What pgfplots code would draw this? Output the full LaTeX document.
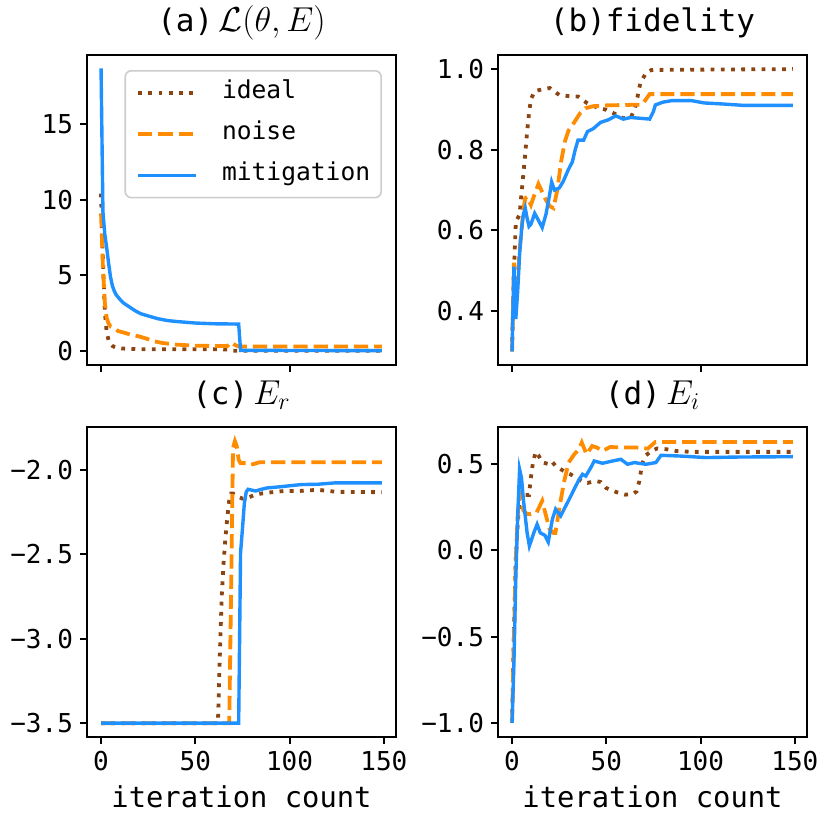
\documentclass[border=0pt]{standalone}
\usepackage{fontspec}
\setmainfont{DejaVu Sans Mono}
\usepackage{pgfplots}
\pgfplotsset{compat=1.18}
\definecolor{cideal}{RGB}{139,69,19}
\definecolor{cnoise}{RGB}{255,140,0}
\definecolor{cmit}{RGB}{30,144,255}
\definecolor{legframe}{RGB}{204,204,204}
\newcommand{\legfont}{\fontsize{12.3}{14}\selectfont}
\newcommand{\mathbig}[1]{{\fontsize{17}{19}\selectfont$#1$}}
\pgfplotsset{
  panel/.style={
    scale only axis, width=154.5pt, height=155pt, anchor=north west,
    xmin=-7.45, xmax=156.45,
    axis line style={line width=1pt, black},
    tick style={line width=1pt, black},
    tick align=outside, major tick length=3.5pt,
    xtick pos=bottom, ytick pos=left,
    tick label style={font=\fontsize{13}{14}\selectfont},
    title style={font=\fontsize{15.5}{17}\selectfont, at={(axis description cs:0.5,1)}, anchor=base, yshift=5.5pt, inner sep=1pt},
    xlabel style={font=\fontsize{14.4}{16}\selectfont, at={(axis description cs:0.5,0)}, anchor=base, yshift=-35pt},
    clip=true,
  },
  ideal/.style={color=cideal, line width=1.9pt, line cap=butt, dash pattern=on 1.9pt off 3.2pt},
  noise/.style={color=cnoise, line width=1.9pt, line cap=butt, dash pattern=on 7.1pt off 3.0pt},
  mit/.style={color=cmit, line width=1.7pt},
}
\begin{document}
\begin{tikzpicture}[x=1pt,y=1pt]
\path[use as bounding box] (0,0) rectangle (415.5,413.5);
% (a)
\begin{axis}[panel, at={(43.5pt,386pt)},
  ymin=-0.95, ymax=19.58,
  xtick={0,100}, xticklabels={},
  ytick={0,5,10,15}, yticklabels={0,5,10,15},
  title={(a)\,\mathbig{\mathcal{L}(\theta,E)}},
  legend style={at={(0.9545,0.9516)}, anchor=north east, draw=legframe, line width=0.8pt,
    rounded corners=3pt, fill=white, fill opacity=0.8, text opacity=1,
    font=\legfont, inner xsep=5.5pt, inner ysep=4.2pt, row sep=6.5pt,
    nodes={inner sep=0pt, text depth=}, cells={anchor=west},
    /tikz/every odd column/.append style={column sep=12pt}},
  legend image code/.code={\draw[#1] (0pt,0pt) -- (29pt,0pt);},
]
\addplot[ideal] coordinates {(0,10.4)(1,6.0)(2,2.6)(3,1.2)(4,0.7)(5,0.45)(6,0.32)(7,0.25)(8,0.2)(10,0.15)(15,0.12)(20,0.1)(30,0.1)(40,0.1)(50,0.1)(60,0.1)(67,0.08)(70,0.0)(74,0.0)(149,0.0)};
\addlegendentry{\legfont\strut ideal}
\addplot[noise] coordinates {(0,9.1)(1,5.5)(2,3.2)(3,2.15)(4,1.8)(5,1.6)(7,1.5)(9,1.3)(12,1.2)(16,1.05)(20,0.95)(24,0.8)(28,0.62)(33,0.5)(40,0.4)(50,0.33)(60,0.31)(67,0.3)(69,0.55)(71,0.38)(73,0.28)(149,0.28)};
\addlegendentry{\legfont\strut noise}
\addplot[mit] coordinates {(0,18.7)(1,9.2)(2,7.7)(3,6.8)(4,5.8)(5,4.9)(6,4.3)(7,3.95)(8,3.7)(10,3.4)(12,3.15)(15,2.9)(18,2.65)(21,2.45)(25,2.3)(30,2.12)(35,2.0)(40,1.93)(50,1.83)(60,1.78)(73,1.76)(74,0.02)(149,0.0)};
\addlegendentry{\legfont\strut mitigation}
\end{axis}
% (b)
\begin{axis}[panel, at={(249pt,386pt)},
  ymin=0.266, ymax=1.035,
  xtick={0,100}, xticklabels={},
  ytick={0.4,0.6,0.8,1.0}, yticklabels={0.4,0.6,0.8,1.0},
  title={(b)fidelity},
]
\addplot[ideal] coordinates {(0,0.30)(1,0.50)(2,0.62)(3,0.63)(4,0.64)(5,0.69)(6,0.74)(7,0.79)(8,0.845)(9,0.89)(10,0.925)(12,0.945)(16,0.95)(20,0.953)(25,0.936)(30,0.933)(35,0.932)(40,0.915)(45,0.905)(50,0.899)(55,0.888)(59,0.878)(63,0.88)(65,0.9)(66.5,0.93)(68,0.965)(71,0.99)(74,0.998)(149,1.0)};
\addplot[noise] coordinates {(0,0.30)(1,0.52)(2,0.42)(3,0.48)(4,0.55)(5,0.6)(6,0.65)(7,0.68)(8,0.683)(10,0.663)(12,0.69)(14,0.715)(16,0.695)(18,0.675)(20,0.66)(22,0.655)(24,0.7)(26,0.77)(28,0.82)(30,0.848)(33,0.868)(36,0.89)(39,0.903)(43,0.908)(50,0.91)(60,0.911)(69,0.912)(71,0.925)(73,0.938)(149,0.938)};
\addplot[mit] coordinates {(0,0.30)(1,0.51)(2,0.38)(3,0.45)(4,0.54)(5,0.6)(6,0.64)(7,0.655)(8,0.63)(9,0.61)(10,0.615)(12,0.642)(14,0.625)(16,0.607)(18,0.64)(20,0.69)(21,0.72)(22.5,0.70)(25,0.705)(27,0.72)(30,0.752)(32,0.77)(33.5,0.80)(35,0.824)(38,0.824)(40,0.845)(43,0.852)(47,0.868)(51,0.874)(55,0.884)(59,0.876)(63,0.88)(68,0.878)(73,0.876)(75,0.895)(76,0.911)(80,0.918)(85,0.922)(95,0.922)(102,0.916)(110,0.914)(123,0.91)(149,0.91)};
\end{axis}
% (c)
\begin{axis}[panel, at={(43.5pt,200pt)},
  ymin=-3.582, ymax=-1.746,
  xtick={0,50,100,150}, xticklabels={0,50,100,150},
  ytick={-3.5,-3,-2.5,-2}, yticklabels={−3.5,−3.0,−2.5,−2.0},
  title={(c)\,\mathbig{E_r}},
  xlabel={iteration count},
]
\addplot[ideal] coordinates {(0,-3.5)(62,-3.5)(63,-3.1)(64,-2.75)(65,-2.55)(66,-2.4)(67,-2.28)(68,-2.18)(69,-2.14)(70,-2.14)(72,-2.155)(75,-2.17)(78,-2.165)(81,-2.15)(85,-2.14)(90,-2.133)(97,-2.125)(105,-2.125)(115,-2.118)(125,-2.13)(149,-2.132)};
\addplot[noise] coordinates {(0,-3.5)(68,-3.5)(69,-2.7)(70,-1.87)(71,-1.83)(72,-1.86)(73,-1.94)(74,-1.96)(77,-1.96)(79,-1.97)(81,-1.965)(84,-1.955)(149,-1.955)};
\addplot[mit] coordinates {(0,-3.5)(73,-3.5)(74,-2.49)(75,-2.35)(76,-2.2)(77,-2.13)(78,-2.115)(80,-2.12)(82,-2.125)(85,-2.115)(88,-2.107)(95,-2.1)(106,-2.087)(115,-2.085)(124,-2.077)(149,-2.077)};
\end{axis}
% (d)
\begin{axis}[panel, at={(249pt,200pt)},
  ymin=-1.082, ymax=0.714,
  xtick={0,50,100,150}, xticklabels={0,50,100,150},
  ytick={-1,-0.5,0,0.5}, yticklabels={−1.0,−0.5,0.0,0.5},
  title={(d)\,\mathbig{E_i}},
  xlabel={iteration count},
]
\addplot[ideal] coordinates {(0,-1)(1,-0.45)(2,-0.05)(3,0.15)(4,0.3)(5,0.33)(7,0.32)(9,0.32)(10,0.42)(11,0.5)(12.5,0.57)(14,0.55)(16,0.51)(19,0.5)(21,0.515)(23,0.49)(25,0.475)(28,0.455)(31,0.44)(34,0.42)(37,0.4)(40,0.39)(42,0.395)(45,0.4)(47,0.395)(50,0.36)(55,0.338)(60,0.322)(64,0.325)(66,0.34)(67.5,0.4)(69,0.5)(71,0.55)(74,0.575)(77,0.59)(82,0.585)(87,0.575)(95,0.57)(149,0.57)};
\addplot[noise] coordinates {(0,-1)(1,-0.5)(2,-0.05)(3,0.2)(4,0.33)(5,0.3)(6,0.23)(8,0.21)(10,0.209)(13,0.218)(16,0.286)(18,0.2)(20,0.12)(22,0.1)(23,0.1)(25,0.238)(27.5,0.392)(30,0.508)(33,0.556)(35.5,0.585)(37,0.624)(39.5,0.556)(42.5,0.604)(45,0.595)(48,0.575)(52,0.598)(60,0.595)(66,0.595)(72,0.589)(76,0.627)(149,0.627)};
\addplot[mit] coordinates {(0,-1)(1,-0.65)(2,-0.15)(3,0.2)(4,0.469)(5,0.42)(6,0.295)(8,0.10)(9.2,0.025)(11.5,0.10)(13.3,0.15)(15,0.10)(17.4,0.087)(19.2,0.048)(21.4,0.18)(23.1,0.238)(25.8,0.199)(27.6,0.238)(30.3,0.295)(32.9,0.353)(35.6,0.411)(37.4,0.44)(39.1,0.43)(41.8,0.479)(43.6,0.517)(48,0.504)(53.3,0.517)(57.7,0.527)(61.3,0.498)(64.8,0.508)(71,0.498)(76.3,0.508)(79,0.55)(88.7,0.546)(102.8,0.537)(120,0.54)(149,0.542)};
\end{axis}
\end{tikzpicture}
\end{document}
